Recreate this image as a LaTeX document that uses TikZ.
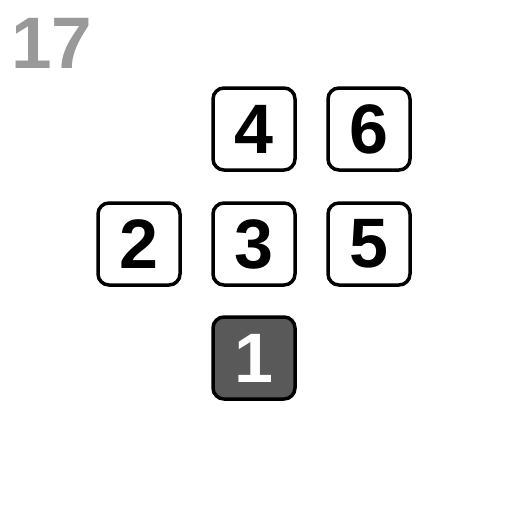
\documentclass[tikz,border=0pt]{standalone}
\usepackage{fontspec}
\setmainfont{Liberation Sans}
\begin{document}
\begin{tikzpicture}[x=1pt,y=-1pt,
  key/.style={draw=black,line width=3.5pt,rounded corners=11pt,minimum width=82pt,minimum height=82pt,fill=white,inner sep=0pt,font=\fontsize{70}{70}\selectfont\bfseries},
  darkkey/.style={key,fill=black!65,text=white}]
\useasboundingbox (0,0) rectangle (512,512);
\node[anchor=base west,text=black!40,inner sep=0pt,font=\fontsize{73}{73}\selectfont\bfseries] (title) at (11,68) {17};
\node[key] (k4) at (254,129) {4};
\node[key] (k6) at (369,129) {6};
\node[key] (k2) at (139,244) {2};
\node[key] (k3) at (254,244) {3};
\node[key] (k5) at (369,244) {5};
\node[darkkey] (k1) at (254,358) {1};
\end{tikzpicture}
\end{document}
